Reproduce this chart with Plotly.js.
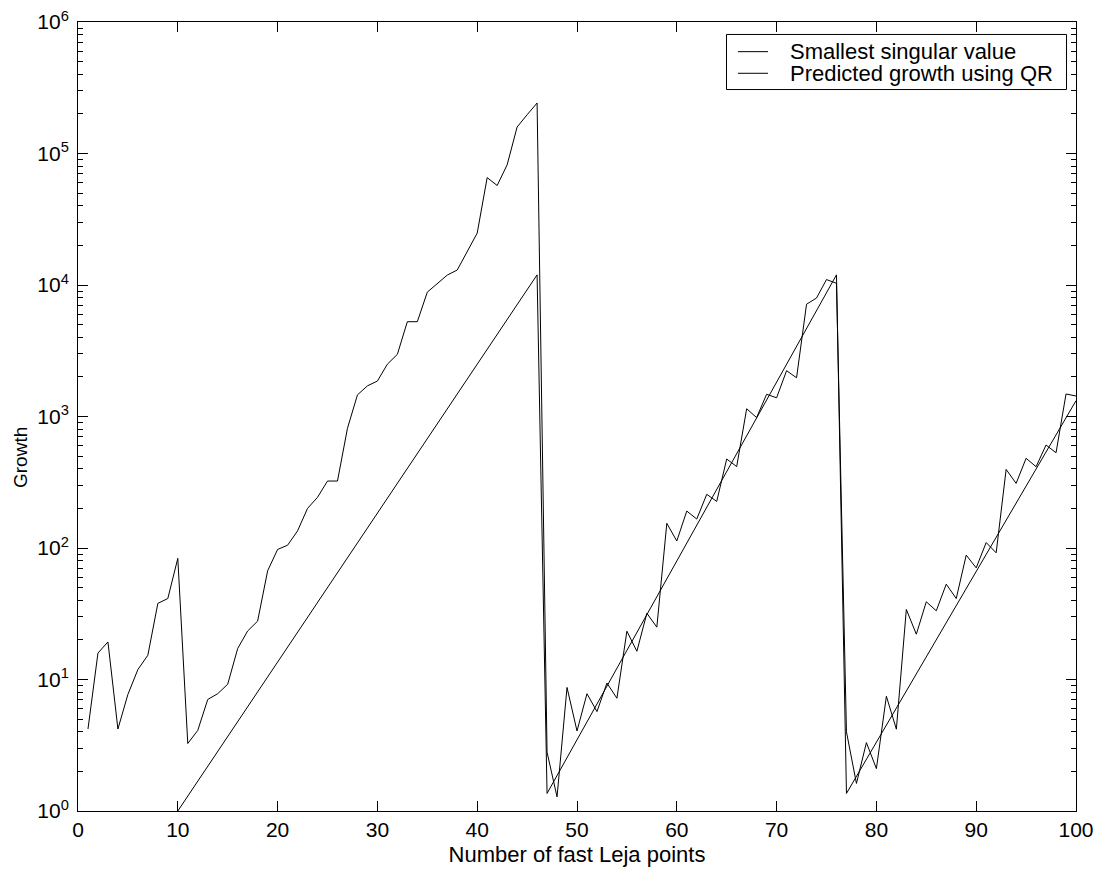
<!DOCTYPE html>
<html>
<head>
<meta charset="utf-8">
<script src="https://cdn.plot.ly/plotly-3.0.1.min.js"></script>
<style>html,body{margin:0;padding:0;background:#fff;}#chart{width:1108px;height:873px;}</style>
</head>
<body>
<div id="chart"></div>
<script>
// Number of fast Leja points
var points = [1,2,3,4,5,6,7,8,9,10,11,12,13,14,15,16,17,18,19,20,
  21,22,23,24,25,26,27,28,29,30,31,32,33,34,35,36,37,38,39,40,
  41,42,43,44,45,46,47,48,49,50,51,52,53,54,55,56,57,58,59,60,
  61,62,63,64,65,66,67,68,69,70,71,72,73,74,75,76,77,78,79,80,
  81,82,83,84,85,86,87,88,89,90,91,92,93,94,95,96,97,98,99,100];

// Smallest singular value (growth)
var smallestSingular = [4.2,15.9,19.3,4.2,7.7,11.9,15.3,37.9,41.3,83.4,
  3.26,4.1,7.05,7.8,9.2,17.2,23.4,27.8,67,97.5,
  105,135,200,243,323,323,813,1460,1710,1860,
  2500,2970,5260,5260,8820,10200,11900,13000,17900,24800,
  65600,57100,82000,159000,197000,242000,2.8,1.28,8.7,4.06,
  7.8,5.7,9.4,7.2,23.3,16.4,31.9,25,154,113,
  191,166,256,226,475,416,1145,982,1475,1388,
  2230,1970,7140,7960,11000,10300,4.0,1.62,3.31,2.10,
  7.46,4.19,34.1,22.1,39.0,33.3,53.1,41.3,88.3,70.6,
  110,91.9,396,310,481,415,607,530,1483,1432];

// Predicted growth using QR (straight segments on the log scale)
var qrPoints = [10,46,47,76,77,100];
var qrGrowth = [1,11940,1.36,11940,1.36,1318];

var seriesNames = ['Smallest singular value', 'Predicted growth using QR'];
var yTickVals = [1,10,100,1000,10000,100000,1000000];
var yTickText = ['10<sup>0</sup>','10<sup>1</sup>','10<sup>2</sup>','10<sup>3</sup>','10<sup>4</sup>','10<sup>5</sup>','10<sup>6</sup>'];
var xTickVals = [0,10,20,30,40,50,60,70,80,90,100];
var xTitle = 'Number of fast Leja points';
var yTitle = 'Growth';

var fontFamily = '"Liberation Sans", Arial, Helvetica, sans-serif';

var traces = [
  {x: points, y: smallestSingular, type: 'scatter', mode: 'lines',
   name: seriesNames[0], line: {color: '#000', width: 1}},
  {x: qrPoints, y: qrGrowth, type: 'scatter', mode: 'lines',
   name: seriesNames[1], line: {color: '#000', width: 1}}
];

// Legend box (drawn as a MATLAB-style compact legend)
var legBox = {x0: 0.6498, x1: 0.9905, y0: 0.9144, y1: 0.9842};
var legRows = [0.9624, 0.9350];
var legLineX = [0.6613, 0.6914];
var legTextX = 0.7114;

var shapes = [
  {type: 'rect', xref: 'paper', yref: 'paper', x0: legBox.x0, x1: legBox.x1, y0: legBox.y0, y1: legBox.y1,
   line: {color: '#000', width: 1}, fillcolor: '#fff', layer: 'above'}
];
var annotations = [];
legRows.forEach(function (ry, i) {
  shapes.push({type: 'line', xref: 'paper', yref: 'paper', x0: legLineX[0], x1: legLineX[1], y0: ry, y1: ry,
    line: {color: '#000', width: 1}, layer: 'above'});
  annotations.push({xref: 'paper', yref: 'paper', x: legTextX, y: ry, xanchor: 'left', yanchor: 'middle',
    text: seriesNames[i], showarrow: false, font: {family: fontFamily, size: 22, color: '#000'}});
});
annotations.push({xref: 'paper', yref: 'paper', x: -0.0581, y: 0.4474, xanchor: 'center', yanchor: 'middle',
  text: yTitle, textangle: -90, showarrow: false, font: {family: fontFamily, size: 19, color: '#000'}});

var layout = {
  width: 1108, height: 873,
  margin: {l: 78, r: 32, t: 22, b: 62, pad: 0},
  paper_bgcolor: '#fff', plot_bgcolor: '#fff',
  font: {family: fontFamily, size: 21, color: '#000'},
  showlegend: false,
  shapes: shapes,
  annotations: annotations,
  xaxis: {
    range: [0, 100], tickmode: 'array', tickvals: xTickVals,
    ticks: 'inside', ticklen: 10, tickwidth: 1, tickcolor: '#000',
    showline: true, linecolor: '#000', linewidth: 1, mirror: 'ticks',
    showgrid: false, zeroline: false,
    tickfont: {family: fontFamily, size: 21, color: '#000'},
    title: {text: xTitle, font: {family: fontFamily, size: 22, color: '#000'}, standoff: 6}
  },
  yaxis: {
    type: 'log', range: [0, 6], tickmode: 'array', tickvals: yTickVals, ticktext: yTickText,
    ticks: 'inside', ticklen: 10, tickwidth: 1, tickcolor: '#000',
    showline: true, linecolor: '#000', linewidth: 1, mirror: 'ticks',
    showgrid: false, zeroline: false, ticklabelstandoff: 4,
    minor: {dtick: 'D1', ticks: 'inside', ticklen: 5, tickwidth: 1, tickcolor: '#000', showgrid: false},
    tickfont: {family: fontFamily, size: 21, color: '#000'}
  }
};

Plotly.newPlot('chart', traces, layout, {displayModeBar: false, staticPlot: true});
</script>
</body>
</html>
